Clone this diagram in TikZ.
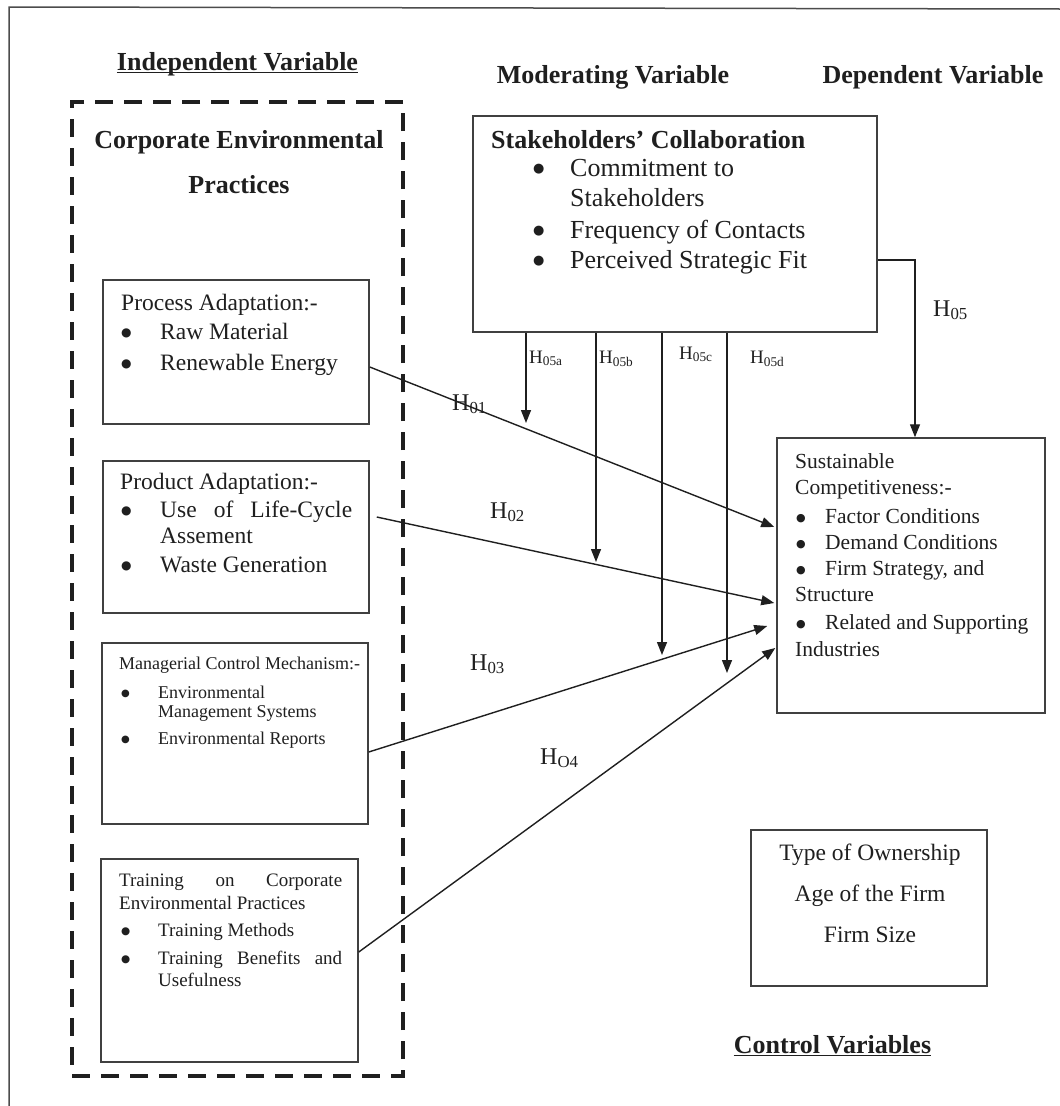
\documentclass[tikz,border=0pt]{standalone}
\usepackage{fontspec}
\setmainfont{Liberation Serif}
\newfontfamily\symf{DejaVu Sans}
\usetikzlibrary{arrows.meta,calc}
\definecolor{ink}{gray}{0.12}
\definecolor{frame}{gray}{0.30}
\newcommand{\bul}[2]{\raisebox{#2pt}{\symf\fontsize{#1}{#1}\selectfont ●}}
\begin{document}
\begin{tikzpicture}[x=1pt,y=-1pt,
  boxnode/.style={draw=ink!85, line width=1.5pt, inner sep=0pt, anchor=center, fill=none},
  dashbox/.style={draw=ink, line width=4pt, dash pattern=on 18pt off 11pt, inner sep=0pt, anchor=center},
  txt/.style={anchor=base west, inner sep=0pt, text=ink},
  ctxt/.style={anchor=base, inner sep=0pt, text=ink},
  fhead/.style={font=\fontsize{26}{30}\selectfont\bfseries},
  fbig/.style={font=\fontsize{26}{30}\selectfont},
  fmid/.style={font=\fontsize{23.5}{28}\selectfont},
  fsus/.style={font=\fontsize{21.5}{26}\selectfont},
  ftrn/.style={font=\fontsize{19}{23}\selectfont},
  fmgr/.style={font=\fontsize{18}{22}\selectfont},
  fhl/.style={font=\fontsize{24}{28}\selectfont},
  fhs/.style={font=\fontsize{19}{23}\selectfont},
  arr/.style={draw=ink, line width=1.4pt, -{Triangle[length=13pt,width=10pt]}},
  conn/.style={draw=ink, line width=1.4pt}
]
\useasboundingbox (0,0) rectangle (1060,1106);
\fill[white] (0,0) rectangle (1060,1106);
% outer frame (top and left only)
\draw[frame, line width=1.5pt] (9,1106) -- (9,7) -- (1060,9);

% headings
\node[ctxt,fhead] (indep) at (237.5,70) {Independent Variable};
\draw[ink, line width=1.3pt] ([yshift=-2.5pt]indep.base west) -- ([yshift=-2.5pt]indep.base east);
\node[ctxt,fhead] (moder) at (613,83) {Moderating Variable};
\node[ctxt,fhead] (depv) at (933,83) {Dependent Variable};
\node[ctxt,fhead] (ctrl) at (832.5,1053) {Control Variables};
\draw[ink, line width=1.3pt] ([yshift=-2.5pt]ctrl.base west) -- ([yshift=-2.5pt]ctrl.base east);

% dashed group
\node[dashbox, minimum width=331pt, minimum height=974pt] (group) at (237.5,589) {};
\node[ctxt,fhead] (corp1) at (239,148) {Corporate Environmental};
\node[ctxt,fhead] (corp2) at (239,193) {Practices};

% boxes
\node[boxnode, minimum width=266pt, minimum height=144pt] (proc) at (236,352) {};
\node[boxnode, minimum width=266pt, minimum height=152pt] (prod) at (236,537) {};
\node[boxnode, minimum width=266pt, minimum height=181pt] (mgr) at (235,733.5) {};
\node[boxnode, minimum width=257pt, minimum height=203pt] (train) at (229.5,960.5) {};
\node[boxnode, minimum width=404pt, minimum height=216pt] (stake) at (675,224) {};
\node[boxnode, minimum width=268pt, minimum height=275pt] (sust) at (911,575.5) {};
\node[boxnode, minimum width=236pt, minimum height=156pt] (cbox) at (869,908) {};

% process adaptation
\node[txt,fmid] (pa0) at (121,310) {Process Adaptation:-};
\node[txt] (pab1) at (121,339) {\bul{12}{3}};
\node[txt,fmid] (pa1) at (160,339) {Raw Material};
\node[txt] (pab2) at (121,370) {\bul{12}{3}};
\node[txt,fmid] (pa2) at (160,370) {Renewable Energy};

% product adaptation
\node[txt,fmid] (pr0) at (120,489) {Product Adaptation:-};
\node[txt] (prb1) at (121,517) {\bul{12}{3}};
\node[txt,fmid] (pr1) at (160,517) {\hbox to 192pt{Use\hfill of\hfill Life-Cycle}};
\node[txt,fmid] (pr2) at (160,543) {Assement};
\node[txt] (prb3) at (121,572) {\bul{12}{3}};
\node[txt,fmid] (pr3) at (160,572) {Waste Generation};

% managerial
\node[txt,fmgr] (mg0) at (119,669) {Managerial Control Mechanism:-};
\node[txt] (mgb1) at (121,698) {\bul{10}{2}};
\node[txt,fmgr] (mg1) at (158,698) {Environmental};
\node[txt,fmgr] (mg2) at (158,717) {Management Systems};
\node[txt] (mgb3) at (121,744) {\bul{10}{2}};
\node[txt,fmgr] (mg3) at (158,744) {Environmental Reports};

% training
\node[txt,ftrn] (tr0) at (119,886) {\hbox to 223pt{Training\hfill on\hfill Corporate}};
\node[txt,ftrn] (tr1) at (119,909) {Environmental Practices};
\node[txt] (trb2) at (121,936) {\bul{10.5}{2}};
\node[txt,ftrn] (tr2) at (158,936) {Training Methods};
\node[txt] (trb3) at (121,964) {\bul{10.5}{2}};
\node[txt,ftrn] (tr3) at (158,964) {\hbox to 184pt{Training\hfill Benefits\hfill and}};
\node[txt,ftrn] (tr4) at (158,986) {Usefulness};

% stakeholders
\node[txt,fhead] (st0) at (491,148) {Stakeholders’ Collaboration};
\node[txt] (stb1) at (533,176) {\bul{13}{3.5}};
\node[txt,fbig] (st1) at (570,176) {Commitment to};
\node[txt,fbig] (st2) at (570,206) {Stakeholders};
\node[txt] (stb3) at (533,238) {\bul{13}{3.5}};
\node[txt,fbig] (st3) at (570,238) {Frequency of Contacts};
\node[txt] (stb4) at (533,268) {\bul{13}{3.5}};
\node[txt,fbig] (st4) at (570,268) {Perceived Strategic Fit};

% sustainable competitiveness
\node[txt,fsus] (su0) at (795,468.5) {Sustainable};
\node[txt,fsus] (su1) at (795,494.5) {Competitiveness:-};
\node[txt] (sub2) at (796,523.5) {\bul{11}{2.5}};
\node[txt,fsus] (su2) at (825,523.5) {Factor Conditions};
\node[txt] (sub3) at (796,549.5) {\bul{11}{2.5}};
\node[txt,fsus] (su3) at (825,549.5) {Demand Conditions};
\node[txt] (sub4) at (796,575.5) {\bul{11}{2.5}};
\node[txt,fsus] (su4) at (825,575.5) {Firm Strategy, and};
\node[txt,fsus] (su5) at (795,601.5) {Structure};
\node[txt] (sub6) at (796,629.5) {\bul{11}{2.5}};
\node[txt,fsus] (su6) at (825,629.5) {Related and Supporting};
\node[txt,fsus] (su7) at (795,656.5) {Industries};

% control variables
\node[ctxt,fmid] (cv1) at (870,860) {Type of Ownership};
\node[ctxt,fmid] (cv2) at (870,901) {Age of the Firm};
\node[ctxt,fmid] (cv3) at (870,942) {Firm Size};

% main hypotheses arrows
\draw[arr] ([yshift=-15pt]proc.east) -- ([xshift=-2pt,yshift=48.5pt]sust.west);
\draw[arr] ([xshift=7pt,yshift=20pt]prod.east) -- ([xshift=-2pt,yshift=-27.5pt]sust.west);
\draw[arr] ([yshift=-18.5pt]mgr.east) -- ([xshift=-9pt,yshift=-50.5pt]sust.west);
\draw[arr] ([yshift=8.5pt]train.east) -- ([xshift=-1pt,yshift=-72.5pt]sust.west);
\draw[arr] ([yshift=-36pt]stake.east) -| ([xshift=4pt]sust.north);

% moderating arrows
\coordinate (m1) at (526,423);
\coordinate (m2) at (596,562);
\coordinate (m3) at (662,655);
\coordinate (m4) at (727,673);
\draw[arr] (m1 |- stake.south) -- (m1);
\draw[arr] (m2 |- stake.south) -- (m2);
\draw[arr] (m3 |- stake.south) -- (m3);
\draw[arr] (m4 |- stake.south) -- (m4);

% labels
\node[txt,fhl] (h01) at (452,410) {H\textsubscript{01}};
\node[txt,fhl] (h02) at (490,518) {H\textsubscript{02}};
\node[txt,fhl] (h03) at (470,670) {H\textsubscript{03}};
\node[txt,fhl] (h04) at (540,764) {H\textsubscript{O4}};
\node[txt,fhl] (h05) at (933,316) {H\textsubscript{05}};
\node[txt,fhs] (h05a) at (529,363) {H\textsubscript{05a}};
\node[txt,fhs] (h05b) at (599,363) {H\textsubscript{05b}};
\node[txt,fhs] (h05c) at (679,359) {H\textsubscript{05c}};
\node[txt,fhs] (h05d) at (750,363) {H\textsubscript{05d}};
\end{tikzpicture}
\end{document}
